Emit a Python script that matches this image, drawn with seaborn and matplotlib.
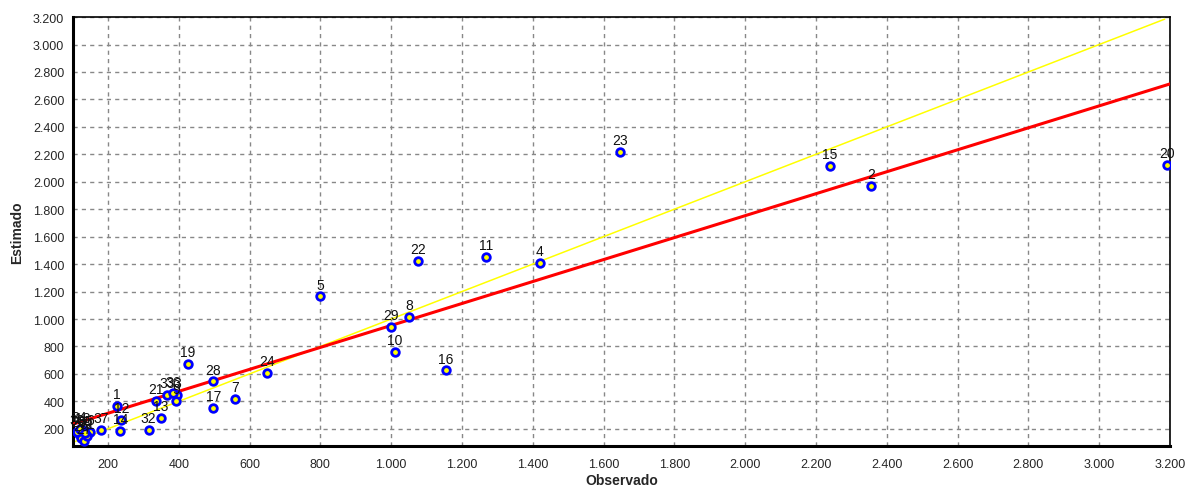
import pandas as pd
import matplotlib
matplotlib.use('Agg')
import matplotlib.pyplot as plt
from matplotlib.ticker import MultipleLocator, FuncFormatter
import seaborn as sns

# Observed vs estimated values, one label per point
point_ids = [1, 2, 3, 4, 5, 6, 7, 8, 9, 10, 11, 12, 13, 14, 15, 16, 17, 18,
             19, 20, 21, 22, 23, 24, 25, 26, 27, 28, 29, 30, 31, 32, 33, 34,
             35, 36, 37]
observado = [226, 2355, 395, 1420, 800, 150, 560, 1050, 392, 1010, 1267, 238,
             350, 235, 2240, 1155, 498, 128, 425, 3192, 335, 1076, 1647, 650,
             118, 125, 132, 498, 1000, 112, 140, 315, 367, 120, 135, 384, 181]
estimado = [364, 1970, 444, 1410, 1165, 174, 420, 1015, 400, 760, 1455, 262,
            280, 182, 2115, 625, 355, 189, 670, 2125, 400, 1425, 2220, 605,
            160, 131, 112, 545, 945, 175, 150, 190, 444, 200, 170, 458, 189]

# Reference lines: 1:1 line and fitted line
ideal_x = [100, 3185]
ideal_y = [100, 3185]
fit_x = [100, 3200]
fit_y = [233, 2713]

df = pd.DataFrame({'id': point_ids, 'Observado': observado, 'Estimado': estimado})

sns.set_style('white')
plt.rcParams['font.family'] = ['Liberation Sans', 'DejaVu Sans']

fig, ax = plt.subplots(figsize=(11.89, 4.89), dpi=100)
fig.subplots_adjust(left=0.061, right=0.984, top=0.963, bottom=0.086)

sns.lineplot(x=ideal_x, y=ideal_y, color='#ffff00', linewidth=1.1, ax=ax, zorder=2)
sns.lineplot(x=fit_x, y=fit_y, color='#ff0000', linewidth=2.2, ax=ax, zorder=3)
sns.scatterplot(data=df, x='Observado', y='Estimado', ax=ax, s=30,
                facecolor='#ffff00', edgecolor='#0000ff', linewidth=2, zorder=4)

for _, row in df.iterrows():
    ax.annotate(str(row['id']), (row['Observado'], row['Estimado']),
                xytext=(0, 3.5), textcoords='offset points', ha='center', va='bottom',
                fontsize=10, color='#111111', zorder=5)

ax.set_xlim(100, 3200)
ax.set_ylim(75, 3200)
ax.xaxis.set_major_locator(MultipleLocator(200))
ax.yaxis.set_major_locator(MultipleLocator(200))
ax.xaxis.set_minor_locator(MultipleLocator(50))
ax.yaxis.set_minor_locator(MultipleLocator(50))
fmt = FuncFormatter(lambda v, p: f'{int(v):,}'.replace(',', '.'))
ax.xaxis.set_major_formatter(fmt)
ax.yaxis.set_major_formatter(fmt)
ax.grid(True, which='major', linestyle=(0, (3, 3)), color='#888888', linewidth=1)
ax.tick_params(axis='both', which='major', direction='out', length=4, width=1,
               labelsize=9, color='#444444')
ax.tick_params(axis='x', which='major', pad=5)
ax.tick_params(axis='y', which='major', pad=2)
ax.tick_params(axis='both', which='minor', direction='out', length=2, width=0.8, color='#888888')

for side in ['left', 'bottom']:
    ax.spines[side].set_linewidth(2.2)
    ax.spines[side].set_color('black')
for side in ['top', 'right']:
    ax.spines[side].set_linewidth(1.2)
    ax.spines[side].set_color('black')

ax.set_xlabel('Observado', fontsize=10, fontweight='bold', labelpad=2)
ax.set_ylabel('Estimado', fontsize=10, fontweight='bold', labelpad=6)

plt.savefig('out.png', dpi=100)
